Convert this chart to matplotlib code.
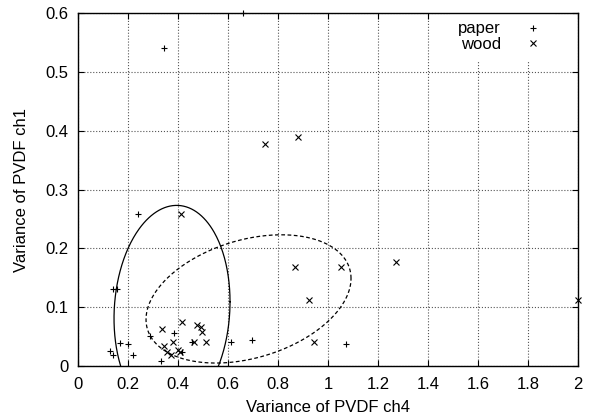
import numpy as np
import matplotlib
matplotlib.use('Agg')
import matplotlib.pyplot as plt
from matplotlib.ticker import FormatStrFormatter

plt.rcParams['font.family'] = ['Liberation Sans', 'DejaVu Sans']

# paper samples (variance ch4, variance ch1)
paper_x = [0.66, 0.344, 0.239, 0.141, 0.155, 0.288, 0.385, 0.168, 0.199, 0.128,
           0.141, 0.221, 0.332, 0.455, 0.416, 0.611, 0.696, 1.072]
paper_y = [0.600, 0.541, 0.258, 0.131, 0.131, 0.051, 0.056, 0.039, 0.037, 0.026,
           0.019, 0.018, 0.008, 0.041, 0.024, 0.040, 0.045, 0.037]

# wood samples
wood_x = [0.412, 0.337, 0.417, 0.477, 0.492, 0.497, 0.379, 0.465, 0.511, 0.344,
          0.357, 0.373, 0.399, 0.408, 0.748, 0.881, 0.868, 1.053, 1.272, 0.925,
          0.943, 2.0]
wood_y = [0.258, 0.063, 0.074, 0.069, 0.067, 0.058, 0.041, 0.040, 0.040, 0.034,
          0.024, 0.018, 0.027, 0.024, 0.377, 0.389, 0.169, 0.169, 0.177, 0.112,
          0.040, 0.112]

# class ellipses: centre, half extents, correlation
paper_ell = dict(cx=0.376, cy=0.095, hx=0.232, hy=0.178, r=0.08)
wood_ell = dict(cx=0.682, cy=0.114, hx=0.41, hy=0.109, r=0.32)


def ellipse(cx, cy, hx, hy, r):
    t = np.linspace(0, 2 * np.pi, 400)
    d = np.arccos(r)
    return cx + hx * np.cos(t), cy + hy * np.cos(t - d)


fig = plt.figure(figsize=(6.02, 4.17), dpi=100)
ax = fig.add_axes([0.1296, 0.1223, 0.8306, 0.8465])

ax.grid(True, linestyle=':', color='#555555', linewidth=0.8)
ax.set_axisbelow(True)

ax.plot(paper_x, paper_y, '+', color='black', markersize=5, markeredgewidth=0.8,
        label='paper', clip_on=False)
ax.plot(wood_x, wood_y, 'x', color='black', markersize=4, markeredgewidth=0.8,
        label='wood', clip_on=False)

ex, ey = ellipse(**paper_ell)
ax.plot(ex, ey, '-', color='black', linewidth=0.9)
ex, ey = ellipse(**wood_ell)
ax.plot(ex, ey, '--', color='black', linewidth=0.9, dashes=(3, 2))

ax.set_xlim(0, 2)
ax.set_ylim(0, 0.6)
ax.set_xticks(np.arange(0, 2.01, 0.2))
ax.set_yticks(np.arange(0, 0.61, 0.1))
ax.xaxis.set_major_formatter(FormatStrFormatter('%g'))
ax.yaxis.set_major_formatter(FormatStrFormatter('%g'))
ax.tick_params(direction='in', length=4, top=True, right=True, labelsize=12)
ax.tick_params(axis='x', pad=8)
ax.tick_params(axis='y', pad=7)
for s in ax.spines.values():
    s.set_linewidth(1.0)

ax.set_xlabel('Variance of PVDF ch4', fontsize=12, labelpad=6)
ax.set_ylabel('Variance of PVDF ch1', fontsize=12, labelpad=12)

leg = ax.legend(loc='upper right', markerfirst=False, fontsize=12, frameon=True,
                fancybox=False, edgecolor='none', facecolor='white', framealpha=1,
                handlelength=1.5, handletextpad=1.2, labelspacing=0.05,
                borderpad=0.5, borderaxespad=0, bbox_to_anchor=(0.952, 1.0))
leg.set_zorder(2.2)

fig.savefig('out.png', dpi=100)
